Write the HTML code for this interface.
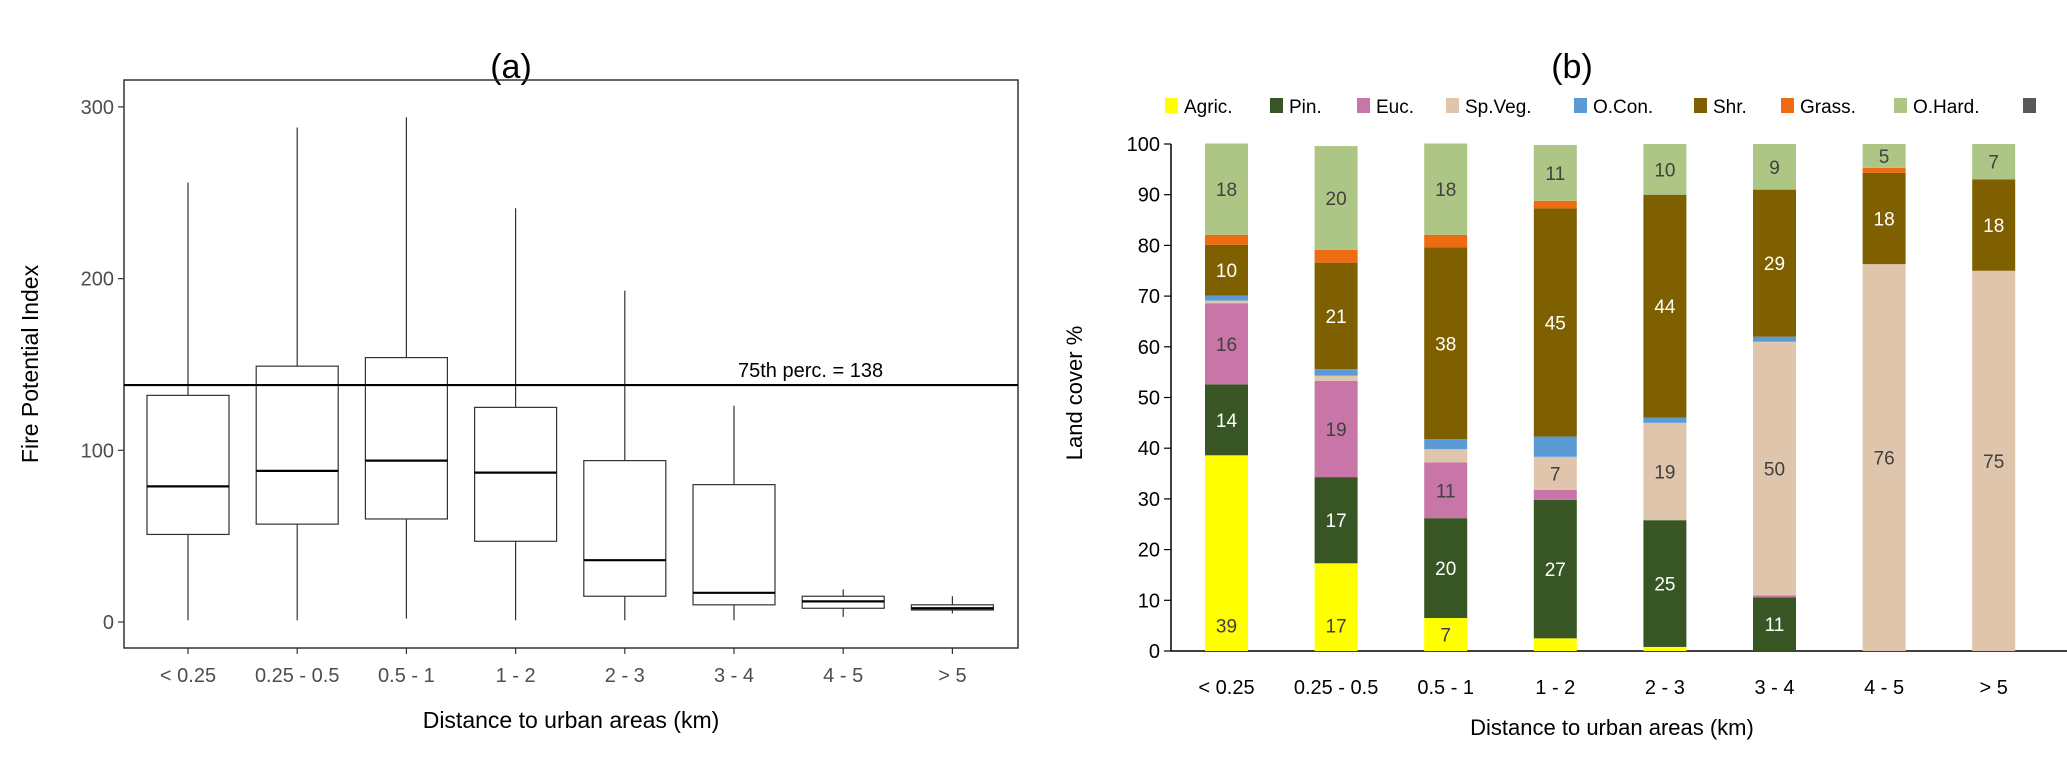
<!DOCTYPE html>
<html><head><meta charset="utf-8"><style>
html,body{margin:0;padding:0;background:#fff;width:2067px;height:768px;overflow:hidden}
svg{display:block;font-family:"Liberation Sans",sans-serif}
</style></head><body>
<svg id="root" width="2067" height="768" viewBox="0 0 2067 768">
<text x="511" y="78" font-size="34" text-anchor="middle" fill="#000">(a)</text>
<text x="1572" y="78" font-size="34" text-anchor="middle" fill="#000">(b)</text>
<g id="ga"></g>
<g id="gb"></g>
</svg>
<script>
const NS="http://www.w3.org/2000/svg";
function mk(p,tag,at,txt){const e=document.createElementNS(NS,tag);for(const k in at)e.setAttribute(k,at[k]);if(txt!==undefined)e.textContent=txt;p.appendChild(e);return e;}

// ---- Chart (a) data ----
const catsA=["< 0.25","0.25 - 0.5","0.5 - 1","1 - 2","2 - 3","3 - 4","4 - 5","> 5"];
const boxMin=[1,1,2,1,1,1,3,5];
const boxQ1=[51,57,60,47,15,10,8,7];
const boxMed=[79,88,94,87,36,17,12,8];
const boxQ3=[132,149,154,125,94,80,15,10];
const boxMax=[256,288,294,241,193,126,19,15];
const ticksA=[0,100,200,300];
const refLine=138;

const ga=document.getElementById('ga');
const ya=v=>622-v*1.717;
const xa=i=>188+i*109.2;
let r=mk(ga,'rect',{x:124,y:80,width:894,height:568,fill:'none',stroke:'#333','stroke-width':1.5});

ticksA.forEach(t=>{
 let l=mk(ga,'line',{x1:118,x2:124,y1:ya(t),y2:ya(t),stroke:'#333','stroke-width':1.2});
 
 let tx=mk(ga,'text',{x:114,y:ya(t)+7,'font-size':20,'text-anchor':'end',fill:'#4d4d4d'},String(t));
 
});
catsA.forEach((c,i)=>{
 const x=xa(i),hw=41;
 let g=mk(ga,'g',{});
 
 mk(g,'line',{x1:x,x2:x,y1:ya(boxMax[i]),y2:ya(boxQ3[i]),stroke:'#333','stroke-width':1.2});
 mk(g,'line',{x1:x,x2:x,y1:ya(boxQ1[i]),y2:ya(boxMin[i]),stroke:'#333','stroke-width':1.2});
 mk(g,'rect',{x:x-hw,y:ya(boxQ3[i]),width:2*hw,height:ya(boxQ1[i])-ya(boxQ3[i]),fill:'#fff',stroke:'#333','stroke-width':1.2});
 mk(g,'line',{x1:x-hw,x2:x+hw,y1:ya(boxMed[i]),y2:ya(boxMed[i]),stroke:'#000','stroke-width':2.2});
 let t=mk(ga,'line',{x1:x,x2:x,y1:648,y2:654,stroke:'#333','stroke-width':1.2});
 
 let tl=mk(ga,'text',{x:x,y:682,'font-size':20,'text-anchor':'middle',fill:'#4d4d4d'},c);
 
});
let rl=mk(ga,'line',{x1:124,x2:1018,y1:ya(refLine),y2:ya(refLine),stroke:'#000','stroke-width':2.2});

let rlt=mk(ga,'text',{x:738,y:ya(refLine)-8,'font-size':20,fill:'#000'},'75th perc. = '+refLine);

let xta=mk(ga,'text',{x:571,y:728,'font-size':23,'text-anchor':'middle',fill:'#000'},'Distance to urban areas (km)');

let yta=mk(ga,'text',{x:0,y:0,'font-size':23,'text-anchor':'middle',fill:'#000',transform:'translate(38,364) rotate(-90)'},'Fire Potential Index');


// ---- Chart (b) data ----
const catsB=["< 0.25","0.25 - 0.5","0.5 - 1","1 - 2","2 - 3","3 - 4","4 - 5","> 5"];
const seriesNames=["Agric.","Pin.","Euc.","Sp.Veg.","O.Con.","Shr.","Grass.","O.Hard.",""];
const agric=[38.6,17.3,6.5,2.5,0.8,0,0,0];
const pin=[14,17,19.7,27.3,25,10.6,0,0];
const euc=[16,19,11,2,0,0.4,0,0];
const spveg=[0.5,1,2.6,6.5,19.2,50,76.3,75];
const ocon=[1,1.3,2,4,1,1,0,0];
const shr=[10,21,37.8,45,44,29,18,18];
const grass=[2,2.5,2.5,1.5,0,0,1,0];
const ohard=[18,20.5,18,11,10,9,4.7,7];
const other=[0,0,0,0,0,0,0,0];
const labelAgric=["39","17","7","","","","",""];
const labelPin=["14","17","20","27","25","11","",""];
const labelEuc=["16","19","11","","","","",""];
const labelSpveg=["","","","7","19","50","76","75"];
const labelShr=["10","21","38","45","44","29","18","18"];
const labelOhard=["18","20","18","11","10","9","5","7"];
const ticksB=[0,10,20,30,40,50,60,70,80,90,100];

const seriesVals=[agric,pin,euc,spveg,ocon,shr,grass,ohard,other];
const seriesLabels=[labelAgric,labelPin,labelEuc,labelSpveg,null,labelShr,null,labelOhard,null];
const colors=["#ffff00","#375623","#c875a8","#dfc5ab","#5b9bd5","#7f6000","#ed6c12","#adc685","#595959"];
const lblColors=["#404040","#fff","#404040","#404040","#fff","#fff","#fff","#404040","#fff"];

const gb=document.getElementById('gb');
const yb=v=>651-v*5.07;
const xb=i=>1226.5+i*109.6;
const bw=43;
let ax=mk(gb,'line',{x1:1171,x2:1171,y1:yb(100),y2:651,stroke:'#000','stroke-width':1.5});

let bx=mk(gb,'line',{x1:1171,x2:2067,y1:651,y2:651,stroke:'#000','stroke-width':1.5});

ticksB.forEach(t=>{
 let l=mk(gb,'line',{x1:1164,x2:1171,y1:yb(t),y2:yb(t),stroke:'#000','stroke-width':1.2});
 
 let tx=mk(gb,'text',{x:1160,y:yb(t)+7,'font-size':20,'text-anchor':'end',fill:'#000'},String(t));
 
});
catsB.forEach((c,i)=>{
 let cum=0;
 const x=xb(i);
 seriesVals.forEach((s,k)=>{
  const v=s[i];
  if(v>0){
   let rc=mk(gb,'rect',{x:x-bw/2,y:yb(cum+v),width:bw,height:v*5.07,fill:colors[k]});
   
   
   const L=seriesLabels[k];
   if(L&&L[i]){
    const off=(k===0)?Math.min(v/2,5):v/2;
    let lt=mk(gb,'text',{x:x,y:yb(cum+off)+7,'font-size':19,'text-anchor':'middle',fill:lblColors[k]},L[i]);
    
    
   }
  }
  cum+=v;
 });
 let tl=mk(gb,'text',{x:x,y:694,'font-size':20,'text-anchor':'middle',fill:'#000'},c);
 
});
const legX=[1165,1270,1357,1446,1574,1694,1781,1894,2023];
seriesNames.forEach((n,k)=>{
 let g=mk(gb,'g',{});
 
 mk(g,'rect',{x:legX[k],y:98,width:13,height:15,fill:colors[k]});
 if(n)mk(g,'text',{x:legX[k]+19,y:113,'font-size':19,fill:'#000'},n);
});
let xtb=mk(gb,'text',{x:1612,y:735,'font-size':22,'text-anchor':'middle',fill:'#000'},'Distance to urban areas (km)');

let ytb=mk(gb,'text',{x:0,y:0,'font-size':22,'text-anchor':'middle',fill:'#000',transform:'translate(1082,393) rotate(-90)'},'Land cover %');

</script>
</body></html>
